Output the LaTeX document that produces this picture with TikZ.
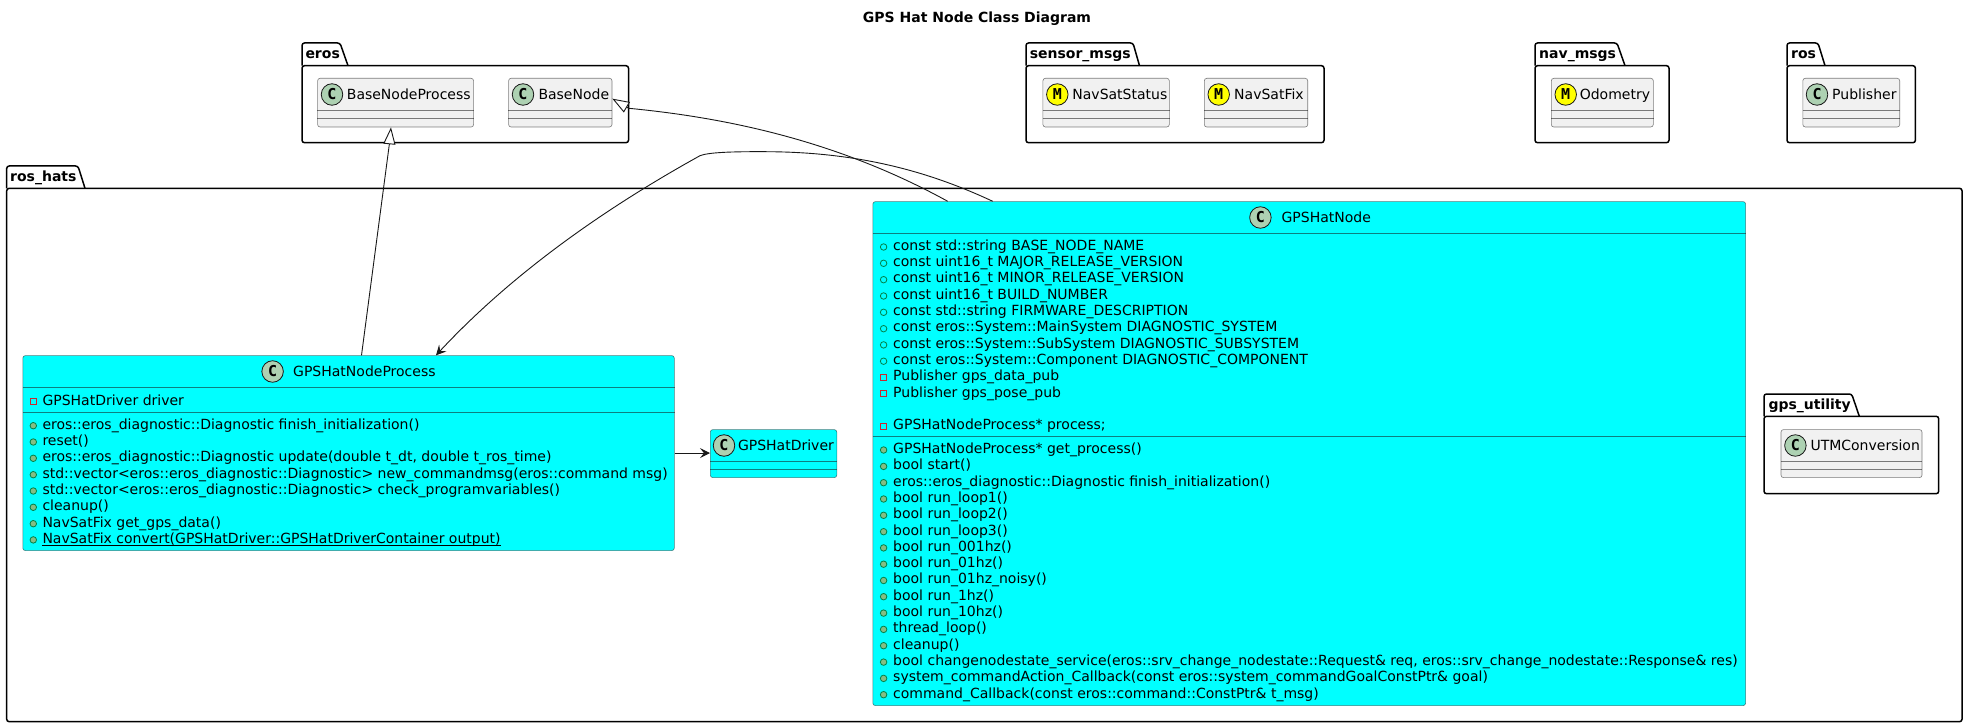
\documentclass[tikz,border=0pt]{standalone}
\usepackage{fontspec}
\setmainfont{DejaVu Sans}
\newfontfamily\spotfont{DejaVu Sans Mono}
\usepackage{tikz}
\usetikzlibrary{arrows.meta}
\definecolor{spotgreen}{HTML}{ADD1B2}
\definecolor{boxgrey}{HTML}{F1F1F1}
\definecolor{pubgreen}{HTML}{038048}
\definecolor{pubfill}{HTML}{84BE84}
\definecolor{privred}{HTML}{C82930}
\definecolor{edgeblack}{HTML}{181818}
\definecolor{hatcyan}{HTML}{00FFFF}
\definecolor{spotyellow}{HTML}{FFFF00}

\begin{document}
\begin{tikzpicture}[x=1pt,y=-1pt]
\tikzstyle{pkg}=[draw=black,line width=1.5pt,rounded corners=2.5pt,fill=white]
\tikzstyle{pkglabel}=[anchor=base west,inner sep=0pt,font=\fontsize{14}{16}\selectfont\bfseries]
\tikzstyle{greybox}=[draw=edgeblack,draw opacity=.55,line width=.6pt,rounded corners=2.5pt,fill=boxgrey,inner sep=0pt,anchor=north west]
\tikzstyle{hatbox}=[draw=edgeblack,draw opacity=.55,line width=.6pt,rounded corners=2.5pt,fill=hatcyan,inner sep=0pt,anchor=north west]
\tikzstyle{compline}=[draw=edgeblack,draw opacity=.55,line width=.6pt]
\tikzstyle{spotc}=[circle,draw=edgeblack,line width=.8pt,fill=spotgreen,minimum size=21.5pt,inner sep=0pt,font=\fontsize{15}{16}\spotfont\bfseries]
\tikzstyle{spotm}=[spotc,fill=spotyellow]
\tikzstyle{classname}=[anchor=base west,inner sep=0pt,font=\fontsize{14}{16}\selectfont]
\tikzstyle{memberrow}=[anchor=base west,inner sep=0pt,font=\fontsize{14}{16}\selectfont]
\tikzstyle{pubattr}=[circle,draw=pubgreen,line width=.8pt,minimum size=6.5pt,inner sep=0pt]
\tikzstyle{pubmeth}=[pubattr,fill=pubfill]
\tikzstyle{privattr}=[rectangle,draw=privred,line width=.8pt,minimum size=6pt,inner sep=0pt]
\tikzstyle{link}=[draw=edgeblack,line width=.9pt]
\tikzstyle{isa}=[link,-{Triangle[open,fill=white,length=17pt,width=12pt]}]
\tikzstyle{uses}=[link,-{Stealth[length=10pt,width=10pt,inset=4pt]}]
\useasboundingbox (0,0) rectangle (1968,727);

% title
\node[anchor=base,inner sep=0pt,font=\fontsize{14}{16}\selectfont\bfseries] (DiagramTitle) at (977,22.7) {GPS Hat Node Class Diagram};

% packages
\draw[pkg] (6.7,188.3) |- (78,166) -- (85,188.3);
\draw[pkg] (6.7,188.3) rectangle (1962,721.7);
\node[pkglabel] (RosHatsLabel) at (10,181.5) {ros\_hats};
\draw[pkg] (302,65.7) |- (340,43) -- (348,65.7);
\draw[pkg] (302,65.7) rectangle (628.5,142.7);
\node[pkglabel] (ErosLabel) at (305.3,58.5) {eros};
\draw[pkg] (1026,65.7) |- (1133,43) -- (1139.5,65.7);
\draw[pkg] (1026,65.7) rectangle (1324,142.7);
\node[pkglabel] (SensorMsgsLabel) at (1029.6,58.5) {sensor\_msgs};
\draw[pkg] (1535,65.7) |- (1617,43) -- (1625,65.7);
\draw[pkg] (1535,65.7) rectangle (1669,142.7);
\node[pkglabel] (NavMsgsLabel) at (1539,58.5) {nav\_msgs};
\draw[pkg] (1787,65.7) |- (1818,43) -- (1825,65.7);
\draw[pkg] (1787,65.7) rectangle (1915.4,142.7);
\node[pkglabel] (RosLabel) at (1791,58.5) {ros};
\draw[pkg] (1764,416.3) |- (1851.7,394) -- (1859.3,416.3);
\draw[pkg] (1764,416.3) rectangle (1938.7,493.7);
\node[pkglabel] (GpsUtilityLabel) at (1768.3,409.5) {gps\_utility};

% classes in the small packages
\node[greybox,minimum width=156pt,minimum height=48.7pt] (BaseNodeProcess) at (317.3,78) {};
\draw[compline] ([yshift=-32pt]BaseNodeProcess.north west) -- ([yshift=-32pt]BaseNodeProcess.north east);
\draw[compline] ([yshift=-40pt]BaseNodeProcess.north west) -- ([yshift=-40pt]BaseNodeProcess.north east);
\node[spotc] (BaseNodeProcessSpot) at (332,94.5) {C};
\node[classname] (BaseNodeProcessName) at (346.7,99.5) {BaseNodeProcess};

\node[greybox,minimum width=103.4pt,minimum height=48.7pt] (BaseNode) at (508.3,78) {};
\draw[compline] ([yshift=-32pt]BaseNode.north west) -- ([yshift=-32pt]BaseNode.north east);
\draw[compline] ([yshift=-40pt]BaseNode.north west) -- ([yshift=-40pt]BaseNode.north east);
\node[spotc] (BaseNodeSpot) at (523,94.5) {C};
\node[classname] (BaseNodeName) at (538.3,99.5) {BaseNode};

\node[greybox,minimum width=126.4pt,minimum height=48.7pt] (NavSatStatus) at (1042.6,78) {};
\draw[compline] ([yshift=-32pt]NavSatStatus.north west) -- ([yshift=-32pt]NavSatStatus.north east);
\draw[compline] ([yshift=-40pt]NavSatStatus.north west) -- ([yshift=-40pt]NavSatStatus.north east);
\node[spotm] (NavSatStatusSpot) at (1057.3,94.5) {M};
\node[classname] (NavSatStatusName) at (1072.2,99.5) {NavSatStatus};

\node[greybox,minimum width=103.4pt,minimum height=48.7pt] (NavSatFix) at (1204,78) {};
\draw[compline] ([yshift=-32pt]NavSatFix.north west) -- ([yshift=-32pt]NavSatFix.north east);
\draw[compline] ([yshift=-40pt]NavSatFix.north west) -- ([yshift=-40pt]NavSatFix.north east);
\node[spotm] (NavSatFixSpot) at (1218.7,94.5) {M};
\node[classname] (NavSatFixName) at (1234,99.5) {NavSatFix};

\node[greybox,minimum width=102pt,minimum height=48.7pt] (Odometry) at (1551,78) {};
\draw[compline] ([yshift=-32pt]Odometry.north west) -- ([yshift=-32pt]Odometry.north east);
\draw[compline] ([yshift=-40pt]Odometry.north west) -- ([yshift=-40pt]Odometry.north east);
\node[spotm] (OdometrySpot) at (1565.7,94.5) {M};
\node[classname] (OdometryName) at (1579.6,99.5) {Odometry};

\node[greybox,minimum width=96.9pt,minimum height=48.7pt] (Publisher) at (1802.5,78) {};
\draw[compline] ([yshift=-32pt]Publisher.north west) -- ([yshift=-32pt]Publisher.north east);
\draw[compline] ([yshift=-40pt]Publisher.north west) -- ([yshift=-40pt]Publisher.north east);
\node[spotc] (PublisherSpot) at (1817,94.5) {C};
\node[classname] (PublisherName) at (1832,99.5) {Publisher};

\node[greybox,minimum width=141pt,minimum height=48pt] (UTMConversion) at (1780.7,429.3) {};
\draw[compline] ([yshift=-32pt]UTMConversion.north west) -- ([yshift=-32pt]UTMConversion.north east);
\draw[compline] ([yshift=-40pt]UTMConversion.north west) -- ([yshift=-40pt]UTMConversion.north east);
\node[spotc] (UTMConversionSpot) at (1795.4,445.5) {C};
\node[classname] (UTMConversionName) at (1810.3,450.5) {UTMConversion};

% the driver
\node[hatbox,minimum width=126.5pt,minimum height=48pt] (GPSHatDriver) at (710,429.3) {};
\draw[compline] ([yshift=-32pt]GPSHatDriver.north west) -- ([yshift=-32pt]GPSHatDriver.north east);
\draw[compline] ([yshift=-40pt]GPSHatDriver.north west) -- ([yshift=-40pt]GPSHatDriver.north east);
\node[spotc] (GPSHatDriverSpot) at (724,445.5) {C};
\node[classname] (GPSHatDriverName) at (737.8,450.5) {GPSHatDriver};

% the process class
\node[hatbox,minimum width=651.5pt,minimum height=195pt] (GPSHatNodeProcess) at (22.5,355.3) {};
\draw[compline] ([yshift=-32pt]GPSHatNodeProcess.north west) -- ([yshift=-32pt]GPSHatNodeProcess.north east);
\draw[compline] ([yshift=-57pt]GPSHatNodeProcess.north west) -- ([yshift=-57pt]GPSHatNodeProcess.north east);
\node[spotc] (GPSHatNodeProcessSpot) at (272.6,371.5) {C};
\node[classname] (GPSHatNodeProcessName) at (293,376.5) {GPSHatNodeProcess};
\node[privattr] (pa1) at (33.3,401.7) {};
\node[memberrow] (pr1) at (42.3,405) {GPSHatDriver driver};
\node[pubmeth] (pm1) at (33.3,425.7) {};
\node[memberrow] (pt1) at (42.3,429) {eros::eros\_diagnostic::Diagnostic finish\_initialization()};
\node[pubmeth] (pm2) at (33.3,442) {};
\node[memberrow] (pt2) at (42.3,445.3) {reset()};
\node[pubmeth] (pm3) at (33.3,458.3) {};
\node[memberrow] (pt3) at (42.3,461.6) {eros::eros\_diagnostic::Diagnostic update(double t\_dt, double t\_ros\_time)};
\node[pubmeth] (pm4) at (33.3,474.7) {};
\node[memberrow] (pt4) at (42.3,478) {std::vector<eros::eros\_diagnostic::Diagnostic> new\_commandmsg(eros::command msg)};
\node[pubmeth] (pm5) at (33.3,491) {};
\node[memberrow] (pt5) at (42.3,494.3) {std::vector<eros::eros\_diagnostic::Diagnostic> check\_programvariables()};
\node[pubmeth] (pm6) at (33.3,507.3) {};
\node[memberrow] (pt6) at (42.3,510.6) {cleanup()};
\node[pubmeth] (pm7) at (33.3,523.7) {};
\node[memberrow] (pt7) at (42.3,527) {NavSatFix get\_gps\_data()};
\node[pubmeth] (pm8) at (33.3,539.9) {};
\node[memberrow] (pt8) at (42.3,543.2) {NavSatFix convert(GPSHatDriver::GPSHatDriverContainer output)};
\draw[line width=.9pt] ([yshift=-2pt]pt8.base west) -- ([yshift=-2pt]pt8.base east);

% the node class
\node[hatbox,minimum width=872.8pt,minimum height=504pt] (GPSHatNode) at (872.5,201.3) {};
\draw[compline] ([yshift=-32pt]GPSHatNode.north west) -- ([yshift=-32pt]GPSHatNode.north east);
\draw[compline] ([yshift=-235.4pt]GPSHatNode.north west) -- ([yshift=-235.4pt]GPSHatNode.north east);
\node[spotc] (GPSHatNodeSpot) at (1260.4,217.5) {C};
\node[classname] (GPSHatNodeName) at (1281.4,222.5) {GPSHatNode};
\node[pubattr] (na1) at (883.6,247) {};
\node[memberrow] (nr1) at (893,250.3) {const std::string BASE\_NODE\_NAME};
\node[pubattr] (na2) at (883.6,263.3) {};
\node[memberrow] (nr2) at (893,266.6) {const uint16\_t MAJOR\_RELEASE\_VERSION};
\node[pubattr] (na3) at (883.6,279.7) {};
\node[memberrow] (nr3) at (893,283) {const uint16\_t MINOR\_RELEASE\_VERSION};
\node[pubattr] (na4) at (883.6,296) {};
\node[memberrow] (nr4) at (893,299.3) {const uint16\_t BUILD\_NUMBER};
\node[pubattr] (na5) at (883.6,312.3) {};
\node[memberrow] (nr5) at (893,315.6) {const std::string FIRMWARE\_DESCRIPTION};
\node[pubattr] (na6) at (883.6,328.7) {};
\node[memberrow] (nr6) at (893,332) {const eros::System::MainSystem DIAGNOSTIC\_SYSTEM};
\node[pubattr] (na7) at (883.6,344.9) {};
\node[memberrow] (nr7) at (893,348.2) {const eros::System::SubSystem DIAGNOSTIC\_SUBSYSTEM};
\node[pubattr] (na8) at (883.6,361.2) {};
\node[memberrow] (nr8) at (893,364.5) {const eros::System::Component DIAGNOSTIC\_COMPONENT};
\node[privattr] (na9) at (883.6,377.5) {};
\node[memberrow] (nr9) at (893,380.8) {Publisher gps\_data\_pub};
\node[privattr] (na10) at (883.6,393.7) {};
\node[memberrow] (nr10) at (893,397) {Publisher gps\_pose\_pub};
\node[privattr] (na11) at (883.6,426.5) {};
\node[memberrow] (nr11) at (893,429.8) {GPSHatNodeProcess* process;};
\node[pubmeth] (nm1) at (883.6,450) {};
\node[memberrow] (nt1) at (893,453.3) {GPSHatNodeProcess* get\_process()};
\node[pubmeth] (nm2) at (883.6,466.4) {};
\node[memberrow] (nt2) at (893,469.7) {bool start()};
\node[pubmeth] (nm3) at (883.6,482.7) {};
\node[memberrow] (nt3) at (893,486) {eros::eros\_diagnostic::Diagnostic finish\_initialization()};
\node[pubmeth] (nm4) at (883.6,499) {};
\node[memberrow] (nt4) at (893,502.3) {bool run\_loop1()};
\node[pubmeth] (nm5) at (883.6,515.3) {};
\node[memberrow] (nt5) at (893,518.6) {bool run\_loop2()};
\node[pubmeth] (nm6) at (883.6,531.7) {};
\node[memberrow] (nt6) at (893,535) {bool run\_loop3()};
\node[pubmeth] (nm7) at (883.6,547.9) {};
\node[memberrow] (nt7) at (893,551.2) {bool run\_001hz()};
\node[pubmeth] (nm8) at (883.6,564.2) {};
\node[memberrow] (nt8) at (893,567.5) {bool run\_01hz()};
\node[pubmeth] (nm9) at (883.6,580.5) {};
\node[memberrow] (nt9) at (893,583.8) {bool run\_01hz\_noisy()};
\node[pubmeth] (nm10) at (883.6,596.7) {};
\node[memberrow] (nt10) at (893,600) {bool run\_1hz()};
\node[pubmeth] (nm11) at (883.6,613.1) {};
\node[memberrow] (nt11) at (893,616.4) {bool run\_10hz()};
\node[pubmeth] (nm12) at (883.6,629.4) {};
\node[memberrow] (nt12) at (893,632.7) {thread\_loop()};
\node[pubmeth] (nm13) at (883.6,645.7) {};
\node[memberrow] (nt13) at (893,649) {cleanup()};
\node[pubmeth] (nm14) at (883.6,662.1) {};
\node[memberrow] (nt14) at (893,665.4) {bool changenodestate\_service(eros::srv\_change\_nodestate::Request\& req, eros::srv\_change\_nodestate::Response\& res)};
\node[pubmeth] (nm15) at (883.6,678.4) {};
\node[memberrow] (nt15) at (893,681.7) {system\_commandAction\_Callback(const eros::system\_commandGoalConstPtr\& goal)};
\node[pubmeth] (nm16) at (883.6,694.7) {};
\node[memberrow] (nt16) at (893,698) {command\_Callback(const eros::command::ConstPtr\& t\_msg)};

% connectors
\coordinate (BaseNodeBend) at (628.7,108.3);
\coordinate (ProcessBendA) at (766,151.7);
\coordinate (ProcessBendB) at (700,155.7);
\coordinate (BaseProcessBend) at (389.5,143);
\draw[isa] ([xshift=339pt]GPSHatNodeProcess.north west) -- (BaseProcessBend) -- ([xshift=73.7pt]BaseNodeProcess.south west);
\draw[isa] ([xshift=75.2pt]GPSHatNode.north west) .. controls (840,142) and (730,118) .. (BaseNodeBend) -- ([yshift=4pt]BaseNode.east);
\draw[uses] ([xshift=120.2pt]GPSHatNode.north west) .. controls (930,172) and (860,152) .. (ProcessBendA) .. controls (730,151.5) and (708,152.5) .. (ProcessBendB) .. controls (620,200) and (520,265) .. ([xshift=413.5pt]GPSHatNodeProcess.north west);
\draw[uses] (GPSHatNodeProcess.east) -- (GPSHatDriver.west |- GPSHatNodeProcess.east);
\end{tikzpicture}
\end{document}
